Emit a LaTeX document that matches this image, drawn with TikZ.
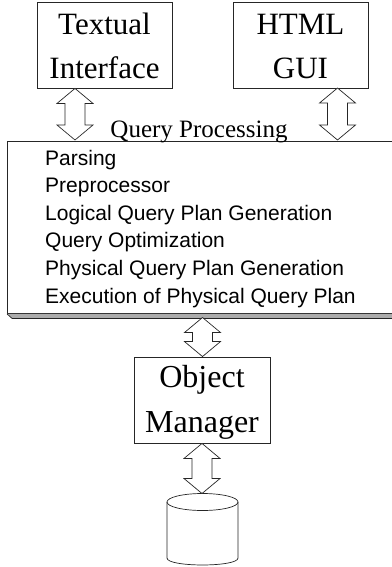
\documentclass[tikz,border=0pt]{standalone}
\usepackage{fontspec}
\setmainfont{Liberation Serif}
\setsansfont{Liberation Sans}
\usetikzlibrary{calc}
\tikzset{
  boxst/.style={draw=black!85, line width=0.9pt, inner sep=0pt},
  bigtxt/.style={font=\fontsize{31}{45}\selectfont, inner sep=0pt, anchor=base},
  omtxt/.style={font=\fontsize{32}{45}\selectfont, inner sep=0pt, anchor=base},
  steptxt/.style={font=\sffamily\fontsize{21}{27.6}\selectfont, inner sep=0pt, anchor=base west},
  fat/.style={draw=black!85, line width=0.7pt, fill=white},
}
\newcommand{\fatarrow}[2]{\draw[fat] let \p1=(#1), \p2=(#2) in
  (\x1,\y1) -- (\x1+18pt,\y1-15pt) -- (\x1+10pt,\y1-15pt) -- (\x1+10pt,\y2+15pt)
  -- (\x1+18pt,\y2+15pt) -- (\x1,\y2) -- (\x1-18pt,\y2+15pt) -- (\x1-10pt,\y2+15pt)
  -- (\x1-10pt,\y1-15pt) -- (\x1-18pt,\y1-15pt) -- cycle;}
\begin{document}
\begin{tikzpicture}[x=1pt,y=-1pt]
\useasboundingbox (0,0) rectangle (391,567);
% top boxes
\node[boxst, minimum width=135pt, minimum height=86pt] (tex) at (104.5,45) {};
\node[bigtxt] (texA) at (104.5,34.3) {Textual};
\node[bigtxt] (texB) at (104.5,79) {Interface};
\node[boxst, minimum width=135pt, minimum height=86pt] (gui) at (300.5,45) {};
\node[bigtxt] (guiA) at (300.5,34.3) {HTML};
\node[bigtxt] (guiB) at (300.5,79) {GUI};
% query processing box
\node[boxst, anchor=north west, minimum width=400pt, minimum height=172pt] (qp) at (7,141) {};
\draw[draw=black!85, line width=0.7pt, fill=gray!65] (qp.south west) -- ($(qp.south west)+(5,4.5)$)
  -- ($(qp.south east)+(0,4.5)$) -- (qp.south east);
\node[font=\fontsize{25}{30}\selectfont, anchor=base, inner sep=0pt] (qpt) at (199,137) {Query Processing};
\foreach \t [count=\i] in {Parsing, Preprocessor, Logical Query Plan Generation, Query Optimization,
  Physical Query Plan Generation, Execution of Physical Query Plan}
  \node[steptxt] (s\i) at (45,{165+27.6*(\i-1)}) {\t};
% object manager
\node[boxst, minimum width=136pt, minimum height=86pt] (om) at (202,400) {};
\node[omtxt] (omA) at (202,387) {Object};
\node[omtxt] (omB) at (202,432) {Manager};
% database
\coordinate (db) at (202.5,493.5);
\draw[draw=black!85, line width=0.7pt] (202.5,502) ellipse[x radius=35.5, y radius=8.5];
\draw[draw=black!85, line width=0.7pt] (167,502) -- (167,558) .. controls (167,567.3) and (238,567.3) .. (238,558) -- (238,502);
% arrows
\coordinate (a1t) at (tex.south -| 75,0);
\coordinate (a1b) at (75,140);
\coordinate (a2t) at (337.5,88);
\coordinate (a2b) at (337.5,140);
\coordinate (a3t) at (202.5,317.5);
\coordinate (a3b) at (om.north);
\coordinate (a4t) at (om.south);
\fatarrow{a1t}{a1b}
\fatarrow{a2t}{a2b}
\fatarrow{a3t}{a3b}
\fatarrow{a4t}{db}
\end{tikzpicture}
\end{document}
